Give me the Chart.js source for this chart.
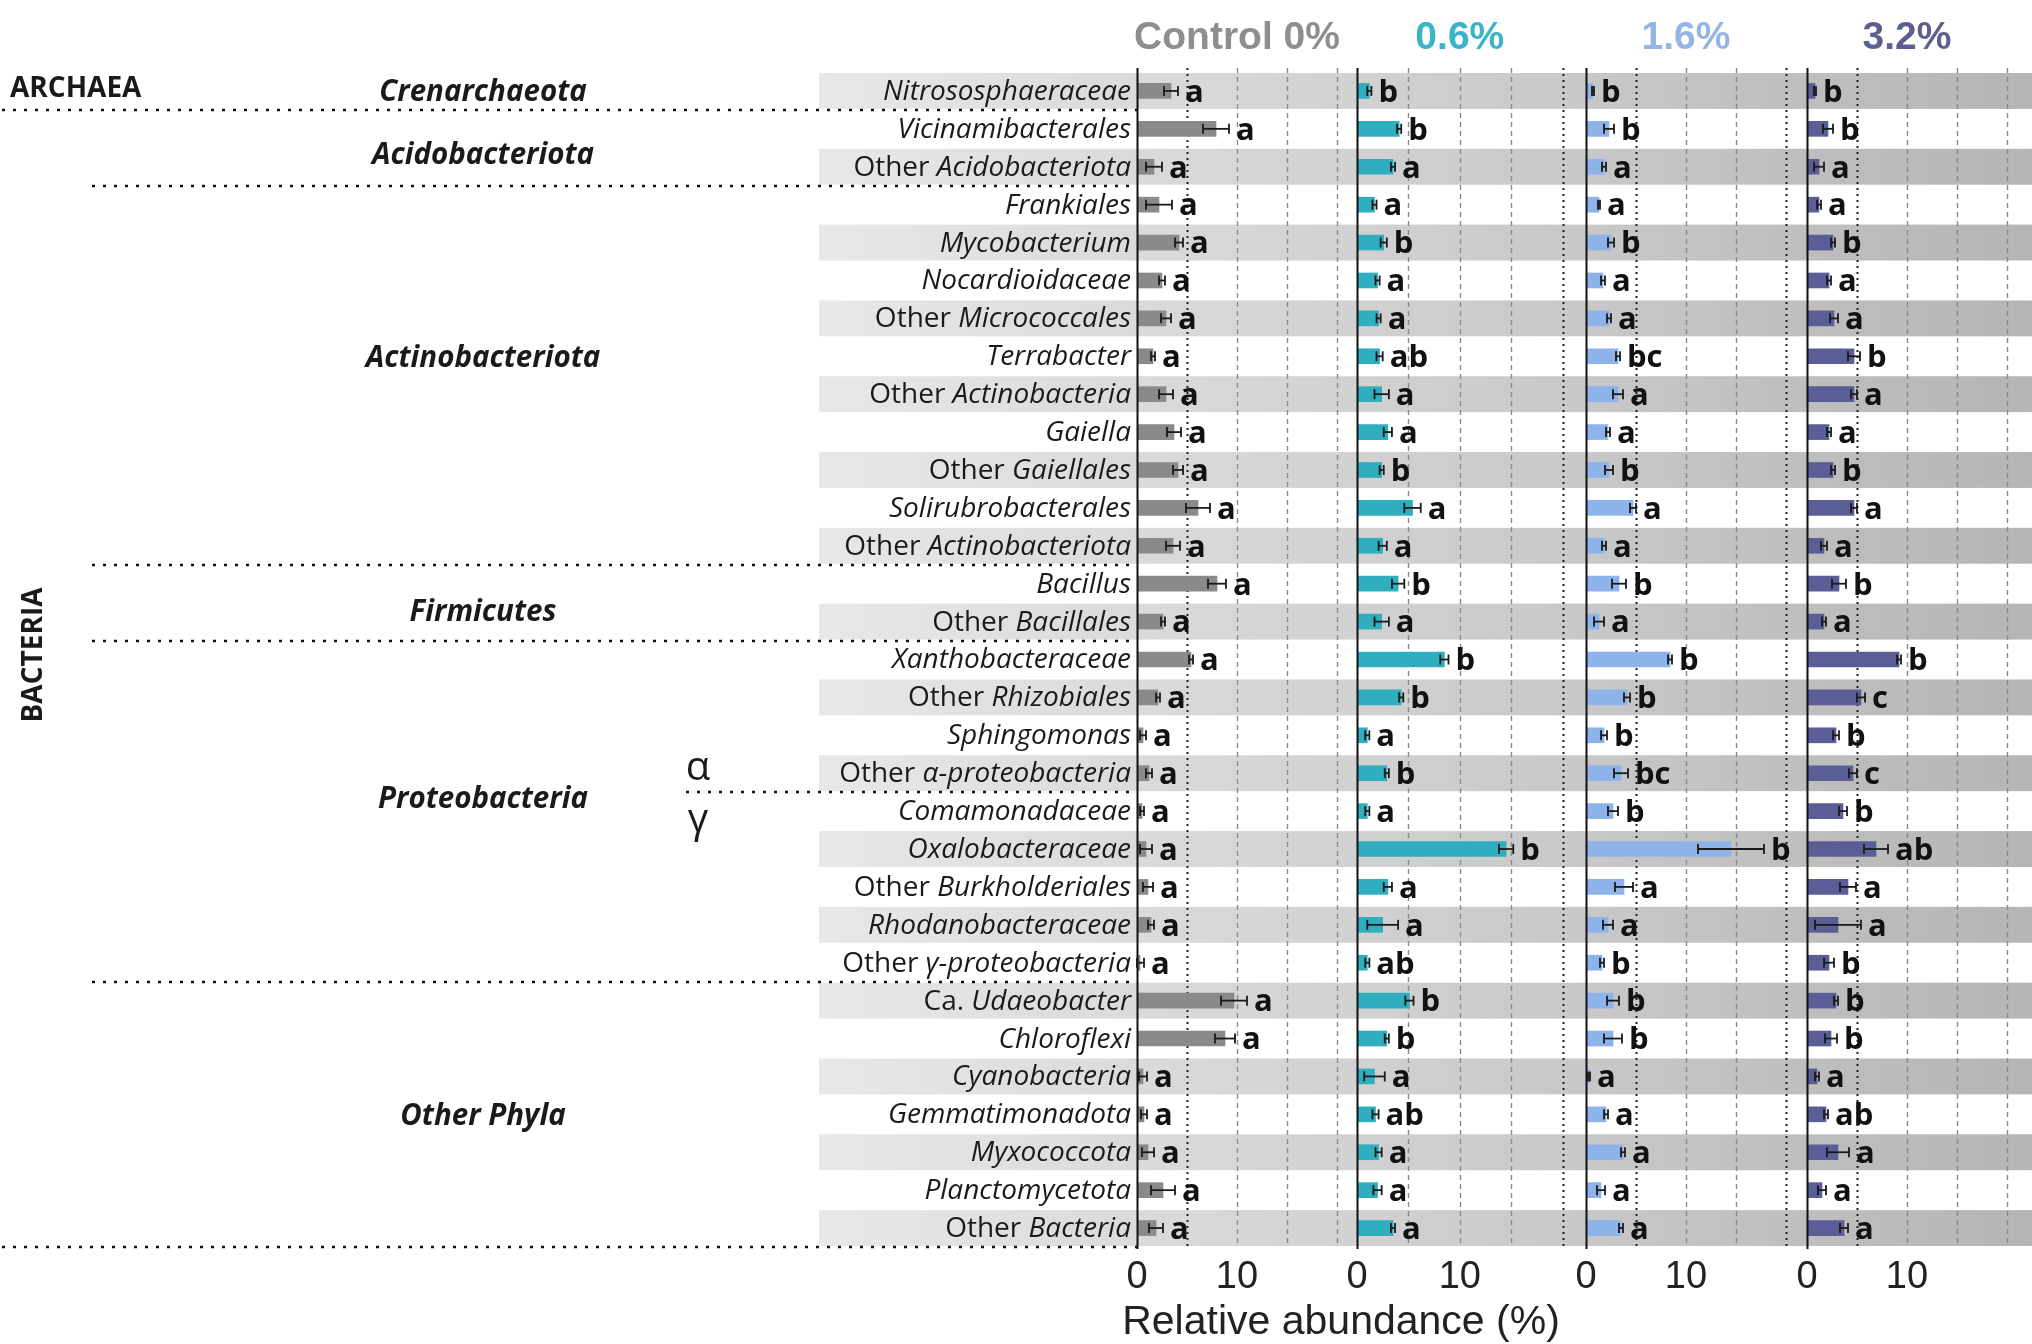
<!DOCTYPE html>
<html>
<head>
<meta charset="utf-8">
<title>Relative abundance</title>
<script src="https://cdn.jsdelivr.net/npm/chart.js@4.4.1/dist/chart.umd.min.js"></script>
<style>
  body { margin: 0; background: #fff; }
  #wrap { position: relative; width: 2032px; height: 1344px; }
  #wrap canvas { position: absolute; left: 0; top: 0; }
</style>
</head>
<body>
<div id="wrap">
  <canvas id="c0" width="2032" height="1344"></canvas>
  <canvas id="c1" width="2032" height="1344"></canvas>
  <canvas id="c2" width="2032" height="1344"></canvas>
  <canvas id="c3" width="2032" height="1344"></canvas>
</div>
<script>
// ---- data ----
const taxa = [
  'Nitrososphaeraceae', 'Vicinamibacterales', 'Other Acidobacteriota', 'Frankiales',
  'Mycobacterium', 'Nocardioidaceae', 'Other Micrococcales', 'Terrabacter',
  'Other Actinobacteria', 'Gaiella', 'Other Gaiellales', 'Solirubrobacterales',
  'Other Actinobacteriota', 'Bacillus', 'Other Bacillales', 'Xanthobacteraceae',
  'Other Rhizobiales', 'Sphingomonas', 'Other α-proteobacteria', 'Comamonadaceae',
  'Oxalobacteraceae', 'Other Burkholderiales', 'Rhodanobacteraceae', 'Other γ-proteobacteria',
  'Ca. Udaeobacter', 'Chloroflexi', 'Cyanobacteria', 'Gemmatimonadota',
  'Myxococcota', 'Planctomycetota', 'Other Bacteria'
];

const treatments = ['Control 0%', '0.6%', '1.6%', '3.2%'];

const control    = [3.4, 7.9, 1.7, 2.2, 4.2, 2.5, 2.9, 1.6, 2.9, 3.7, 4.1, 6.1, 3.6, 8.0, 2.6, 5.4,
                    2.1, 0.6, 1.2, 0.5, 0.9, 1.1, 1.4, 0.3, 9.7, 8.8, 0.6, 0.7, 1.1, 2.6, 1.9];
const controlErr = [0.7, 1.3, 0.8, 1.3, 0.4, 0.3, 0.5, 0.2, 0.7, 0.7, 0.5, 1.2, 0.7, 0.9, 0.2, 0.2,
                    0.2, 0.3, 0.3, 0.2, 0.6, 0.5, 0.3, 0.4, 1.3, 1.0, 0.4, 0.3, 0.6, 1.2, 0.7];
const controlSig = ['a','a','a','a','a','a','a','a','a','a','a','a','a','a','a','a',
                    'a','a','a','a','a','a','a','a','a','a','a','a','a','a','a'];

const dose06    = [1.2, 4.1, 3.5, 1.7, 2.6, 2.0, 2.1, 2.2, 2.4, 3.0, 2.4, 5.4, 2.5, 4.0, 2.4, 8.5,
                   4.3, 1.0, 2.9, 1.0, 14.5, 3.0, 2.5, 1.0, 5.1, 2.9, 1.7, 1.8, 2.1, 2.0, 3.5];
const dose06Err = [0.2, 0.2, 0.2, 0.2, 0.3, 0.2, 0.2, 0.3, 0.7, 0.4, 0.2, 0.8, 0.4, 0.6, 0.7, 0.4,
                   0.2, 0.2, 0.2, 0.2, 0.7, 0.4, 1.5, 0.2, 0.4, 0.2, 1.0, 0.3, 0.3, 0.4, 0.2];
const dose06Sig = ['b','b','a','a','b','a','a','ab','a','a','b','a','a','b','a','b',
                   'b','a','b','a','b','a','a','ab','b','b','a','ab','a','a','a'];

const dose16    = [0.7, 2.3, 1.8, 1.3, 2.5, 1.7, 2.3, 3.2, 3.2, 2.2, 2.3, 4.7, 1.8, 3.3, 1.3, 8.4,
                   4.1, 1.8, 3.5, 2.7, 14.5, 3.8, 2.2, 1.6, 2.7, 2.7, 0.3, 2.0, 3.7, 1.5, 3.5];
const dose16Err = [0.1, 0.5, 0.2, 0.1, 0.3, 0.2, 0.2, 0.2, 0.5, 0.2, 0.4, 0.3, 0.2, 0.7, 0.5, 0.2,
                   0.3, 0.3, 0.7, 0.5, 3.3, 0.9, 0.5, 0.2, 0.6, 0.9, 0.1, 0.2, 0.2, 0.4, 0.2];
const dose16Sig = ['b','b','a','a','b','a','a','bc','a','a','b','a','a','b','a','b',
                   'b','b','bc','b','b','a','a','b','b','b','a','a','a','a','a'];

const dose32    = [0.8, 2.1, 1.2, 1.2, 2.6, 2.2, 2.7, 4.7, 4.7, 2.2, 2.6, 4.7, 1.7, 3.2, 1.7, 9.2,
                   5.4, 2.9, 4.6, 3.6, 6.9, 4.1, 3.1, 2.2, 2.9, 2.4, 1.0, 1.9, 3.1, 1.5, 3.7];
const dose32Err = [0.1, 0.5, 0.5, 0.2, 0.2, 0.2, 0.4, 0.6, 0.3, 0.2, 0.2, 0.3, 0.3, 0.7, 0.2, 0.2,
                   0.4, 0.3, 0.4, 0.4, 1.2, 0.8, 2.3, 0.5, 0.2, 0.6, 0.2, 0.2, 1.1, 0.4, 0.4];
const dose32Sig = ['b','b','a','a','b','a','a','b','a','a','b','a','a','b','a','b',
                   'c','b','c','b','ab','a','a','b','b','b','a','ab','a','a','a'];

// phylum names and the row (index, may be fractional) they sit on
const phyla    = ['Crenarchaeota', 'Acidobacteriota', 'Actinobacteriota', 'Firmicutes', 'Proteobacteria', 'Other Phyla'];
const phylaRow = [0, 1.65, 7, 13.7, 18.65, 27];
// dotted separators sit after these rows
const dividerRows = [0.5, 2.5, 12.5, 14.5, 18.5, 23.5, 30.5];

const tickValues = [0, 10];
const gridValues = [5, 10, 15, 20];

// ---- layout ----
const W = 2032, H = 1344;
const TOP = 72, BOTTOM = 1247, AXIS_H = 50;

const panels = [
  { left: 1137, right: 1347, max: 21,   bar: '#8a8a8a', title: '#8e8e8e', dark: [5],
    mean: control, err: controlErr, sig: controlSig },
  { left: 1357, right: 1577, max: 21.4, bar: '#2eaebe', title: '#3bb3c8', dark: [20],
    mean: dose06, err: dose06Err, sig: dose06Sig },
  { left: 1586, right: 1797, max: 21.1, bar: '#8db3ea', title: '#94b5e3', dark: [5, 20],
    mean: dose16, err: dose16Err, sig: dose16Sig },
  { left: 1807, right: 2032, max: 22.5, bar: '#5b5e96', title: '#5d5f8f', dark: [5],
    mean: dose32, err: dose32Err, sig: dose32Sig }
];

function rowY(y, pos) {
  const a = y.getPixelForValue(0), b = y.getPixelForValue(1);
  return a + pos * (b - a);
}

function line(ctx, x1, y1, x2, y2) {
  ctx.beginPath();
  ctx.moveTo(x1, y1);
  ctx.lineTo(x2, y2);
  ctx.stroke();
}

// grid, error bars, letters and title for one panel
function makeDecor(p, name) {
  return {
    id: 'decor',
    beforeDatasetsDraw(chart) {
      const { ctx, chartArea: a, scales: { x } } = chart;
      ctx.save();
      gridValues.forEach(v => {
        const px = Math.round(x.getPixelForValue(v)) + 0.5;
        const dark = p.dark.includes(v);
        ctx.strokeStyle = dark ? '#1e1e1e' : '#8a8a8a';
        ctx.lineWidth = dark ? 2 : 1.4;
        ctx.setLineDash(dark ? [2, 4] : [5, 4]);
        line(ctx, px, a.top - 4, px, a.bottom);
      });
      ctx.restore();
    },
    afterDatasetsDraw(chart) {
      const { ctx, chartArea: a, scales: { x } } = chart;
      ctx.save();
      const zx = Math.round(x.getPixelForValue(0)) + 0.5;
      ctx.strokeStyle = '#111';
      ctx.lineWidth = 2;
      line(ctx, zx, a.top - 4, zx, a.bottom + 2);

      const meta = chart.getDatasetMeta(0);
      ctx.font = 'bold 31px "Open Sans"';
      ctx.textBaseline = 'middle';
      ctx.textAlign = 'left';
      meta.data.forEach((bar, i) => {
        const m = p.mean[i], e = p.err[i];
        const x1 = x.getPixelForValue(Math.max(0, m - e));
        const x2 = x.getPixelForValue(m + e);
        const y = bar.y;
        ctx.strokeStyle = '#1a1a1a';
        ctx.lineWidth = 1.8;
        line(ctx, x1, y, x2, y);
        line(ctx, x1, y - 5, x1, y + 5);
        line(ctx, x2, y - 5, x2, y + 5);
        ctx.fillStyle = '#111';
        ctx.fillText(p.sig[i], Math.max(x2, bar.x) + 7, y + 2);
      });

      ctx.font = 'bold 39px "Liberation Sans", Arial, sans-serif';
      ctx.textAlign = 'center';
      ctx.fillStyle = p.title;
      ctx.fillText(name, x.getPixelForValue(10), 38);
      ctx.restore();
    }
  };
}

// bands, taxon names and the left-hand annotations (first chart only)
const frame = {
  id: 'frame',
  beforeDraw(chart) {
    const { ctx, scales: { y } } = chart;
    const step = rowY(y, 1) - rowY(y, 0);
    const g = ctx.createLinearGradient(819, 0, W, 0);
    g.addColorStop(0, '#e8e8e8');
    g.addColorStop(1, '#b5b5b5');
    ctx.save();
    ctx.fillStyle = g;
    taxa.forEach((t, i) => {
      if (i % 2 === 0) {
        const cy = y.getPixelForValue(i);
        ctx.fillRect(819, cy - step / 2 + 1, W - 819, step - 2);
      }
    });
    ctx.restore();
  },
  afterDraw(chart) {
    const { ctx, scales: { x, y } } = chart;
    const zx = x.getPixelForValue(0);
    ctx.save();
    ctx.textBaseline = 'middle';
    ctx.fillStyle = '#1a1a1a';

    // taxon labels: prefix upright, name italic
    const upright = '28px "Open Sans"', italic = 'italic 28px "Open Sans"';
    taxa.forEach((t, i) => {
      const cy = y.getPixelForValue(i) + 1;
      const mt = t.match(/^(Other |Ca\. )(.*)$/);
      const pre = mt ? mt[1] : '', rest = mt ? mt[2] : t;
      const xr = zx - 6;
      ctx.textAlign = 'right';
      ctx.font = italic;
      ctx.fillText(rest, xr, cy);
      const w = ctx.measureText(rest).width;
      ctx.font = upright;
      ctx.fillText(pre, xr - w, cy);
    });

    // phyla
    ctx.font = 'italic bold 29.5px "Open Sans"';
    ctx.textAlign = 'center';
    phyla.forEach((ph, i) => ctx.fillText(ph, 483, rowY(y, phylaRow[i]) + 2));

    // dotted separators
    ctx.strokeStyle = '#111';
    ctx.lineWidth = 2.5;
    ctx.setLineDash([3, 8]);
    dividerRows.forEach(r => {
      const from = (r === 0.5 || r === 30.5) ? 2 : (r === 18.5 ? 686 : 92);
      const yy = Math.round(rowY(y, r));
      line(ctx, from, yy, zx, yy);
    });
    ctx.setLineDash([]);

    // alpha / gamma
    const ag = rowY(y, 18.5);
    ctx.font = '40px "Open Sans"';
    ctx.fillText('α', 698, ag - 24);
    ctx.fillText('γ', 698, ag + 28);

    // domains
    ctx.font = 'bold 28px "Open Sans"';
    ctx.textAlign = 'left';
    ctx.fillText('ARCHAEA', 10, rowY(y, 0) - 2);
    ctx.save();
    ctx.translate(34, 655);
    ctx.rotate(-Math.PI / 2);
    ctx.textAlign = 'center';
    ctx.fillText('BACTERIA', 0, 0);
    ctx.restore();

    // axis title
    ctx.font = '41px "Liberation Sans", Arial, sans-serif';
    ctx.textAlign = 'center';
    ctx.fillStyle = '#222';
    ctx.fillText('Relative abundance (%)', 1341, 1323);
    ctx.restore();
  }
};

panels.forEach((p, k) => {
  const plugins = [makeDecor(p, treatments[k])];
  if (k === 0) plugins.unshift(frame);
  new Chart(document.getElementById('c' + k), {
    type: 'bar',
    data: {
      labels: taxa,
      datasets: [{
        data: p.mean,
        backgroundColor: p.bar,
        borderWidth: 0,
        barThickness: 15
      }]
    },
    options: {
      indexAxis: 'y',
      responsive: false,
      animation: false,
      devicePixelRatio: 1,
      layout: { padding: { left: p.left, right: W - p.right, top: TOP, bottom: H - BOTTOM - AXIS_H } },
      plugins: { legend: { display: false }, tooltip: { enabled: false } },
      scales: {
        y: { type: 'category', display: false },
        x: {
          type: 'linear',
          min: 0,
          max: p.max,
          grid: { display: false },
          border: { display: false },
          afterFit: s => { s.height = AXIS_H; },
          ticks: {
            stepSize: 10,
            autoSkip: false,
            maxRotation: 0,
            padding: 0,
            color: '#222',
            font: { family: '"Liberation Sans", Arial, sans-serif', size: 38 },
            callback: v => tickValues.includes(v) ? String(v) : ''
          }
        }
      }
    },
    plugins: plugins
  });
});
</script>
</body>
</html>
